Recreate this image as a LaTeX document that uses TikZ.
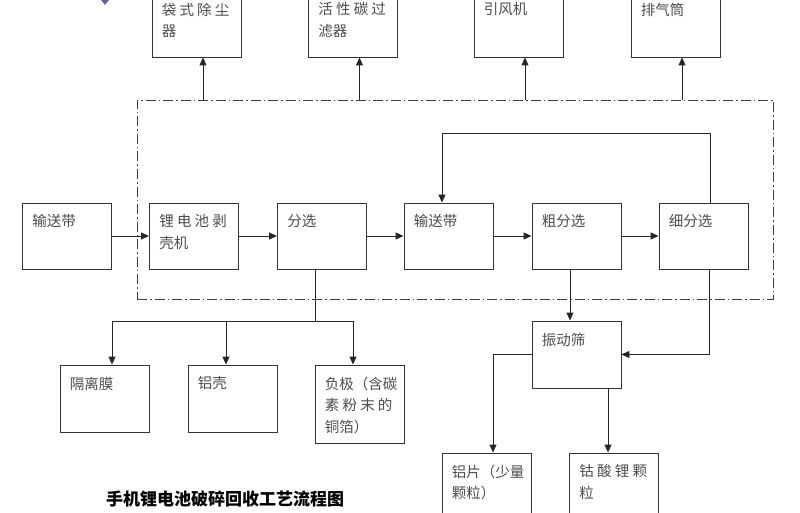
\documentclass[tikz,border=0pt]{standalone}
\usepackage{fontspec}
\usepackage{xcolor}
\usetikzlibrary{arrows.meta,positioning}
\newfontfamily\cjk{Noto Sans CJK SC}

\tikzset{
    box/.style={draw=black!80, line width=0.9pt, minimum width=89pt, minimum height=66pt, inner sep=0pt},
    txt/.style={anchor=north west, xshift=10pt, yshift=-12pt, inner sep=0pt, align=left,
                font=\cjk\fontsize{14.5}{21.5}\selectfont, text=black!70},
    arr/.style={draw=black!85, line width=0.9pt, -{Triangle[length=8pt,width=7pt]}},
    line/.style={draw=black!85, line width=0.9pt},
    frame/.style={draw=black!75, line width=0.8pt, dash pattern=on 10pt off 3pt on 1.5pt off 3pt,
                  minimum width=636pt, minimum height=199pt, inner sep=0pt}
}

\begin{document}
\begin{tikzpicture}[x=1pt, y=-1pt]
    \useasboundingbox (0,0) rectangle (800,513);

    % cut-off mark at the top
    \fill[black!75!blue!60] (101,0) -- (109,0) -- (105,5) -- cycle;

    % dash-dot enclosure
    \node[frame] (frame) at (455,199.5) {};

    % exhaust treatment
    \node[box, label={[txt]north west:袋 式 除 尘\\器}] (bag) at (196.5,24) {};
    \node[box, label={[txt]north west:活 性 碳 过\\滤器}] (carbon) at (353,24) {};
    \node[box, label={[txt]north west:引风机}] (fan) at (518.5,24) {};
    \node[box, label={[txt]north west:排气筒}] (stack) at (675.5,24) {};

    % main line
    \node[box, label={[txt]north west:输送带}] (belt) at (67,236) {};
    \node[box, label={[txt]north west:锂 电 池 剥\\壳机}] (peel) at (194,236) {};
    \node[box, label={[txt]north west:分选}] (sort) at (322,236) {};
    \node[box, label={[txt]north west:输送带}] (belttwo) at (448.5,236) {};
    \node[box, label={[txt]north west:粗分选}] (rough) at (576.5,236) {};
    \node[box, label={[txt]north west:细分选}] (fine) at (703.5,236) {};

    % products
    \node[box, minimum height=67pt, label={[txt]north west:隔离膜}] (film) at (104.5,398.5) {};
    \node[box, minimum height=67pt, label={[txt]north west:铝壳}] (shell) at (232.5,398.5) {};
    \node[box, minimum height=78pt, label={[txt]north west:负极（含碳\\素 粉 末 的\\铜箔）}] (anode) at (359.5,404) {};
    \node[box, minimum height=67pt, label={[txt]north west:振动筛}] (sieve) at (576.5,354.5) {};
    \node[box, label={[txt]north west:铝片（少量\\颗粒）}] (alu) at (486.5,486) {};
    \node[box, label={[txt]north west:钴 酸 锂 颗\\粒}] (lco) at (614,486) {};

    % exhaust arrows
    \draw[arr] ([xshift=6.5pt]bag.south |- frame.north) -- ([xshift=6.5pt]bag.south);
    \draw[arr] ([xshift=6.5pt]carbon.south |- frame.north) -- ([xshift=6.5pt]carbon.south);
    \draw[arr] ([xshift=6.5pt]fan.south |- frame.north) -- ([xshift=6.5pt]fan.south);
    \draw[arr] ([xshift=6.5pt]stack.south |- frame.north) -- ([xshift=6.5pt]stack.south);

    % main flow
    \draw[arr] (belt.east) -- (peel.west);
    \draw[arr] (peel.east) -- (sort.west);
    \draw[arr] (sort.east) -- (belttwo.west);
    \draw[arr] (belttwo.east) -- (rough.west);
    \draw[arr] (rough.east) -- (fine.west);
    \draw[arr] ([xshift=6.5pt]fine.north) -- ++(0,-69) -| ([xshift=-6.5pt]belttwo.north);

    % sorting outputs
    \draw[line] ([xshift=-7pt]sort.south) -- ++(0,52) coordinate (split);
    \draw[arr] (split) -| ([xshift=7.5pt]film.north);
    \draw[arr] (split) -| ([xshift=-6.5pt]shell.north);
    \draw[arr] (split) -| ([xshift=-6.5pt]anode.north);

    % screening
    \draw[arr] ([xshift=-6.5pt]rough.south) -- ([xshift=-6.5pt]sieve.north);
    \draw[arr] ([xshift=5.5pt]fine.south) |- (sieve.east);
    \draw[arr] (sieve.west) -| ([xshift=6.5pt]alu.north);
    \draw[arr] ([xshift=31.5pt]sieve.south) -- ([xshift=31.5pt]sieve.south |- lco.north);

    % title
    \node[font=\cjk\bfseries\fontsize{17}{20}\selectfont] (title) at (225,499) {手机锂电池破碎回收工艺流程图};
\end{tikzpicture}
\end{document}
